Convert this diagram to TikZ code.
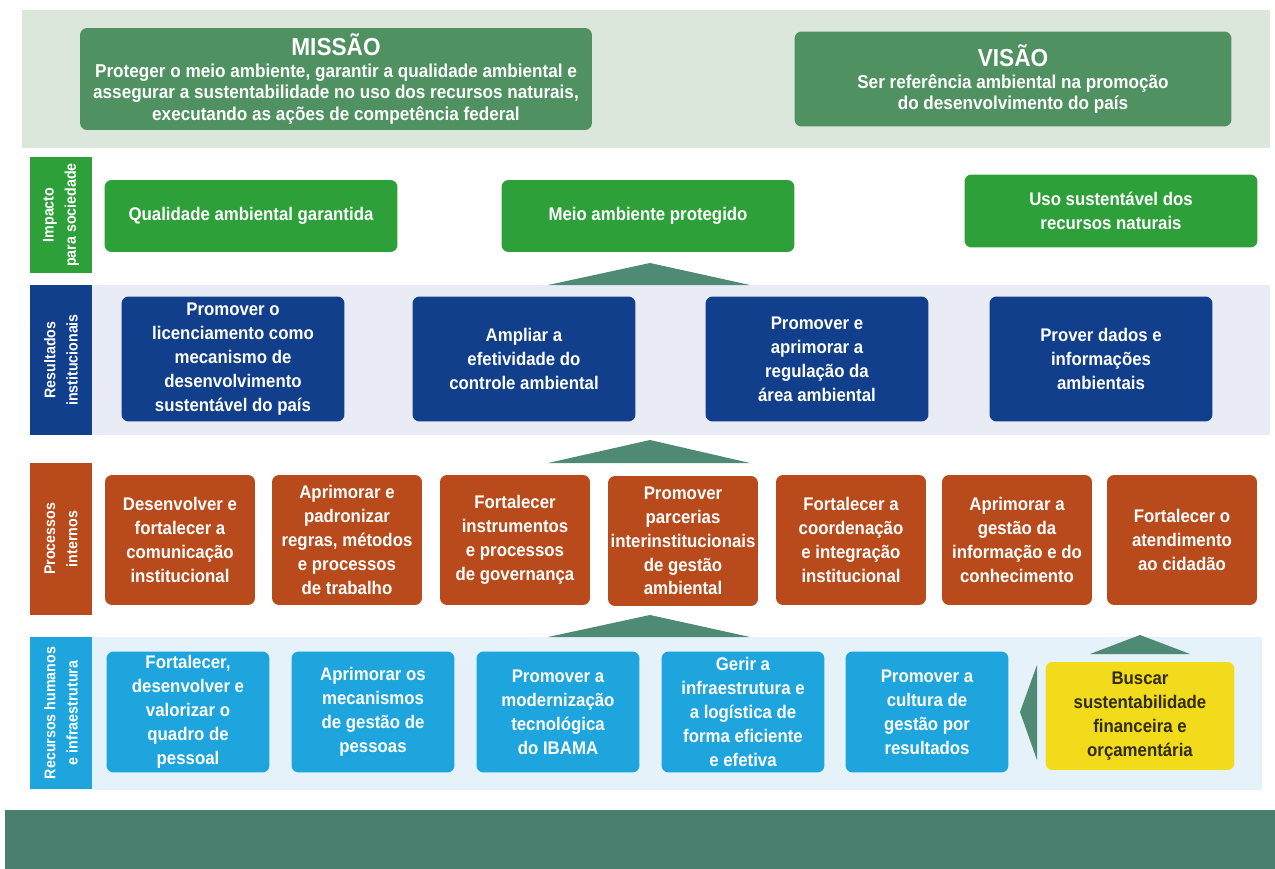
\documentclass[tikz,border=0pt]{standalone}
\usepackage{fontspec}
\setmainfont{Liberation Sans}[FakeStretch=0.92]
\usepackage{tikz}
\definecolor{faixatopo}{HTML}{DCE7DB}
\definecolor{verdemissao}{HTML}{4F9161}
\definecolor{verdeimpacto}{HTML}{2EA03A}
\definecolor{azulescuro}{HTML}{113F8C}
\definecolor{faixaazul}{HTML}{E9EBF5}
\definecolor{laranja}{HTML}{B84A1C}
\definecolor{azulclaro}{HTML}{1EA5DD}
\definecolor{faixaclara}{HTML}{E6F2F9}
\definecolor{amarelo}{HTML}{F1DB1B}
\definecolor{seta}{HTML}{4E8A74}
\definecolor{rodape}{HTML}{4A7E6E}
\tikzset{
	caixa/.style = {align=center, inner sep=0pt, text centered, rounded corners=4pt, text=white, font=\bfseries\fontsize{10.4}{13.6}\selectfont},
	topo/.style = {caixa, fill=verdemissao, font=\bfseries\fontsize{10.6}{12.2}\selectfont},
	impacto/.style = {caixa, fill=verdeimpacto, minimum width=5.86cm},
	resultado/.style = {caixa, fill=azulescuro, minimum width=4.46cm, minimum height=2.5cm},
	processo/.style = {caixa, fill=laranja, minimum width=3cm, minimum height=2.6cm},
	recurso/.style = {caixa, fill=azulclaro, minimum width=3.26cm, minimum height=2.42cm},
	rotulo/.style = {align=center, inner sep=0pt, text=white, minimum height=1.24cm, rotate=90, font=\bfseries\fontsize{8.8}{12.6}\selectfont},
	subida/.style = {fill=seta}
}
\begin{document}
\begin{tikzpicture}[x=0.02cm, y=-0.02cm]
	\useasboundingbox (0,0) rectangle (1275,869);
	\fill[faixatopo] (22,10) rectangle (1270,148);
	\fill[faixaazul] (92,285) rectangle (1270,435);
	\fill[faixaclara] (92,637) rectangle (1262,790);
	\fill[rodape] (5,810) rectangle (1275,869);

	\node [topo, minimum width=10.24cm, minimum height=2.04cm] (missao) at (336,79)
		{{\fontsize{14}{16}\selectfont MISSÃO}\\Proteger o meio ambiente, garantir a qualidade ambiental e\\assegurar a sustentabilidade no uso dos recursos naturais,\\executando as ações de competência federal};
	\node [topo, minimum width=8.74cm, minimum height=1.9cm] (visao) at (1013,79)
		{{\fontsize{14}{16}\selectfont VISÃO}\\Ser referência ambiental na promoção\\do desenvolvimento do país};

	\node [rotulo, fill=verdeimpacto, minimum width=2.32cm] (limpacto) at (61,215) {Impacto\\para sociedade};
	\node [rotulo, fill=azulescuro, minimum width=3cm] (lresultado) at (61,360) {Resultados\\institucionais};
	\node [rotulo, fill=laranja, minimum width=3.04cm] (lprocesso) at (61,539) {Processos\\internos};
	\node [rotulo, fill=azulclaro, minimum width=3.06cm] (lrecurso) at (61,713) {Recursos humanos\\e infraestrutura};

	\node [impacto, minimum height=1.44cm] (i1) at (251,216) {Qualidade ambiental garantida};
	\node [impacto, minimum height=1.44cm] (i2) at (648,216) {Meio ambiente protegido};
	\node [impacto, minimum height=1.46cm] (i3) at (1111,211) {Uso sustentável dos\\recursos naturais};

	\node [resultado] (r1) at (233,359) {Promover o\\licenciamento como\\mecanismo de\\desenvolvimento\\sustentável do país};
	\node [resultado] (r2) at (524,359) {Ampliar a\\efetividade do\\controle ambiental};
	\node [resultado] (r3) at (817,359) {Promover e\\aprimorar a\\regulação da\\área ambiental};
	\node [resultado] (r4) at (1101,359) {Prover dados e\\informações\\ambientais};

	\node [processo] (p1) at (180,540) {Desenvolver e\\fortalecer a\\comunicação\\institucional};
	\node [processo] (p2) at (347,540) {Aprimorar e\\padronizar\\regras, métodos\\e processos\\de trabalho};
	\node [processo] (p3) at (515,540) {Fortalecer\\instrumentos\\e processos\\de governança};
	\node [processo] (p4) at (683,541) {Promover\\parcerias\\interinstitucionais\\de gestão\\ambiental};
	\node [processo] (p5) at (851,540) {Fortalecer a\\coordenação\\e integração\\institucional};
	\node [processo] (p6) at (1017,540) {Aprimorar a\\gestão da\\informação e do\\conhecimento};
	\node [processo] (p7) at (1182,540) {Fortalecer o\\atendimento\\ao cidadão};

	\node [recurso] (h1) at (188,712) {Fortalecer,\\desenvolver e\\valorizar o\\quadro de\\pessoal};
	\node [recurso] (h2) at (373,712) {Aprimorar os\\mecanismos\\de gestão de\\pessoas};
	\node [recurso] (h3) at (558,712) {Promover a\\modernização\\tecnológica\\do IBAMA};
	\node [recurso] (h4) at (743,712) {Gerir a\\infraestrutura e\\a logística de\\forma eficiente\\e efetiva};
	\node [recurso] (h5) at (927,712) {Promover a\\cultura de\\gestão por\\resultados};
	\node [caixa, fill=amarelo, text=black!80!amarelo, minimum width=3.78cm, minimum height=2.16cm] (h6) at (1140,716)
		{Buscar\\sustentabilidade\\financeira e\\orçamentária};

	\fill[subida] (548,285) -- (650,263) -- (750,285) -- cycle;
	\fill[subida] (548,463) -- (650,440) -- (750,463) -- cycle;
	\fill[subida] (548,637) -- (650,615) -- (750,637) -- cycle;
	\fill[subida] (1090,654) -- (1140,635) -- (1190,654) -- cycle;
	\fill[subida] (1037,665) -- (1020,712) -- (1037,760) -- cycle;
\end{tikzpicture}
\end{document}
